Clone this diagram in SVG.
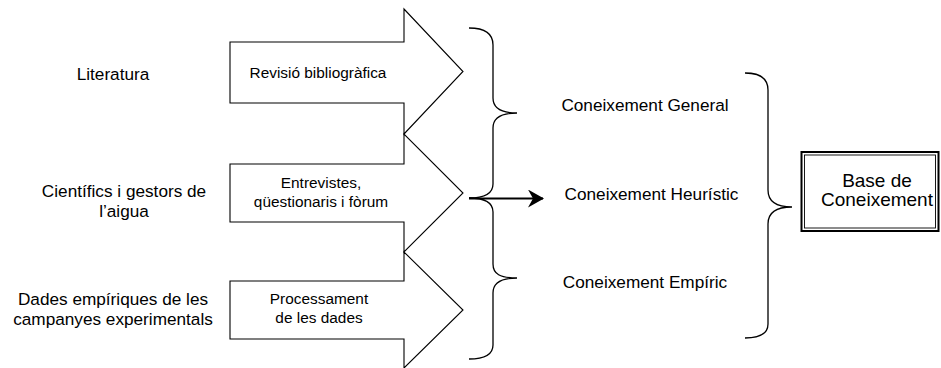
<svg xmlns="http://www.w3.org/2000/svg" width="941" height="368" viewBox="0 0 941 368">
  <style>
    .label { font-family: "Liberation Sans", Arial, Helvetica, sans-serif; font-size: 17.2px; fill: #000; text-anchor: middle; }
    .inner { font-family: "Liberation Sans", Arial, Helvetica, sans-serif; font-size: 15.4px; fill: #000; text-anchor: middle; }
    .big { font-family: "Liberation Sans", Arial, Helvetica, sans-serif; font-size: 19px; fill: #000; text-anchor: middle; }
    .block { fill: #fff; stroke: #000; stroke-width: 1.1; stroke-linejoin: miter; }
    .brace { fill: none; stroke: #000; stroke-width: 1.3; }
    .link { fill: none; stroke: #000; stroke-width: 1.8; }
  </style>
  <defs>
    <marker id="head" viewBox="0 0 16 18" refX="15" refY="9" markerWidth="16" markerHeight="18" markerUnits="userSpaceOnUse" orient="auto">
      <path d="M0,0 L16,9 L0,18 L5,9 Z" fill="#000"/>
    </marker>
  </defs>
  <rect width="941" height="368" fill="#fff"/>

  <!-- source labels -->
  <g id="src-literatura">
    <text class="label" x="113" y="80">Literatura</text>
  </g>
  <g id="src-cientifics">
    <text class="label" x="124" y="196.5">Científics i gestors de</text>
    <text class="label" x="124" y="216.5">l’aigua</text>
  </g>
  <g id="src-dades">
    <text class="label" x="113" y="305">Dades empíriques de les</text>
    <text class="label" x="113" y="325">campanyes experimentals</text>
  </g>

  <!-- process block arrows -->
  <g id="proc-revisio">
    <polygon class="block" points="230,42 404,42 404,9 463,71.5 404,134 404,103 230,103"/>
    <text class="inner" x="318" y="78">Revisió bibliogràfica</text>
  </g>
  <g id="proc-entrevistes">
    <polygon class="block" points="230,164 404,164 404,134 463,193 404,252 404,222 230,222"/>
    <text class="inner" x="321" y="188">Entrevistes,</text>
    <text class="inner" x="321" y="206.5">qüestionaris i fòrum</text>
  </g>
  <g id="proc-processament">
    <polygon class="block" points="230,281 404,281 404,252 463,310 404,368 404,339 230,339"/>
    <text class="inner" x="319" y="304">Processament</text>
    <text class="inner" x="319" y="322.7">de les dades</text>
  </g>

  <!-- knowledge types -->
  <g id="k-general">
    <text class="label" x="645" y="111">Coneixement General</text>
  </g>
  <g id="k-heuristic">
    <text class="label" x="651.5" y="200">Coneixement Heurístic</text>
  </g>
  <g id="k-empiric">
    <text class="label" x="645" y="288">Coneixement Empíric</text>
  </g>

  <!-- knowledge base -->
  <g id="base">
    <rect x="801.5" y="152" width="137" height="79" fill="#fff" stroke="#000" stroke-width="2"/>
    <rect x="804.5" y="155" width="131" height="73" fill="none" stroke="#000" stroke-width="0.9"/>
    <text class="big" x="877" y="187">Base de</text>
    <text class="big" x="877" y="206">Coneixement</text>
  </g>

  <!-- connectors -->
  <g id="connectors">
    <path class="brace" d="M469,28 C485,28 493,33 493,45 L493,98 C493,108 500,113 517,113 C500,113 493,118 493,128 L493,184 C493,194 485,198 469,198"/>
    <path class="brace" d="M469,198 C485,198 493,202 493,212 L493,264 C493,274 500,278 517,278 C500,278 493,283 493,293 L493,345 C493,355 485,359 469,359"/>
    <line class="link" x1="469" y1="198.5" x2="543" y2="198.5" marker-end="url(#head)"/>
    <path class="brace" d="M745,73 C760,73 768,78 768,90 L768,190 C768,201 776,207 792,207 C776,207 768,213 768,224 L768,324 C768,333 760,338 745,338"/>
  </g>
</svg>
